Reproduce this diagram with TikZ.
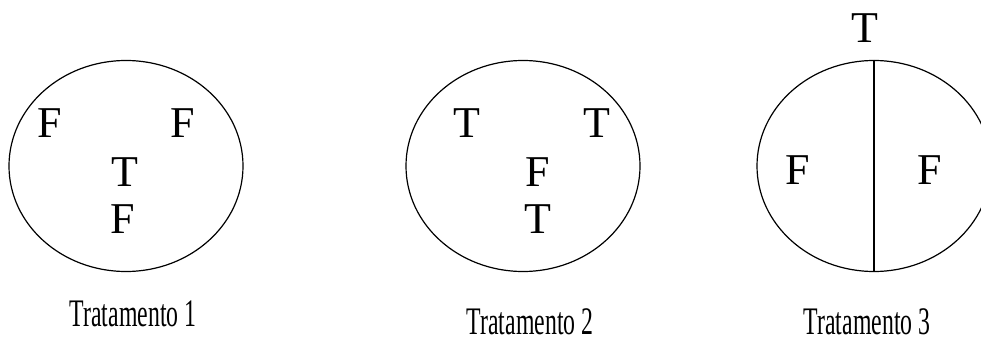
\documentclass[tikz,border=0pt]{standalone}
\usepackage{fontspec}
\setmainfont{Liberation Serif}
\usetikzlibrary{shapes.geometric}

\begin{document}
\begin{tikzpicture}[x=1pt,y=1pt,line width=1.2pt,
  conj/.style={draw,ellipse,minimum width=234pt,minimum height=211pt,inner sep=0pt},
  letra/.style={font=\fontsize{44}{44}\selectfont,inner sep=0pt},
  rotulo/.style={font=\fontsize{39}{39}\selectfont,inner sep=0pt,xscale=0.61,transform shape}]
  \useasboundingbox (0,0) rectangle (981,343);
  % tratamento 1
  \node[conj] (c1) at (126,177) {};
  \node[letra] (f11) at (50,220) {F};
  \node[letra] (f12) at (183,220) {F};
  \node[letra] (t11) at (125,171) {T};
  \node[letra] (f13) at (123,124) {F};
  \node[rotulo] (r1) at (133,29) {Tratamento 1};
  % tratamento 2
  \node[conj] (c2) at (523,177) {};
  \node[letra] (t21) at (467,220) {T};
  \node[letra] (t22) at (597,220) {T};
  \node[letra] (f21) at (538,171) {F};
  \node[letra] (t23) at (538,124) {T};
  \node[rotulo] (r2) at (530,21) {Tratamento 2};
  % tratamento 3: conjunto dividido ao meio
  \node[conj] (c3) at (874,177) {};
  \draw (c3.north)--(c3.south);
  \node[letra] (t31) at (865,315) {T};
  \node[letra] (f31) at (798,173) {F};
  \node[letra] (f32) at (930,173) {F};
  \node[rotulo] (r3) at (867,21) {Tratamento 3};
\end{tikzpicture}
\end{document}
